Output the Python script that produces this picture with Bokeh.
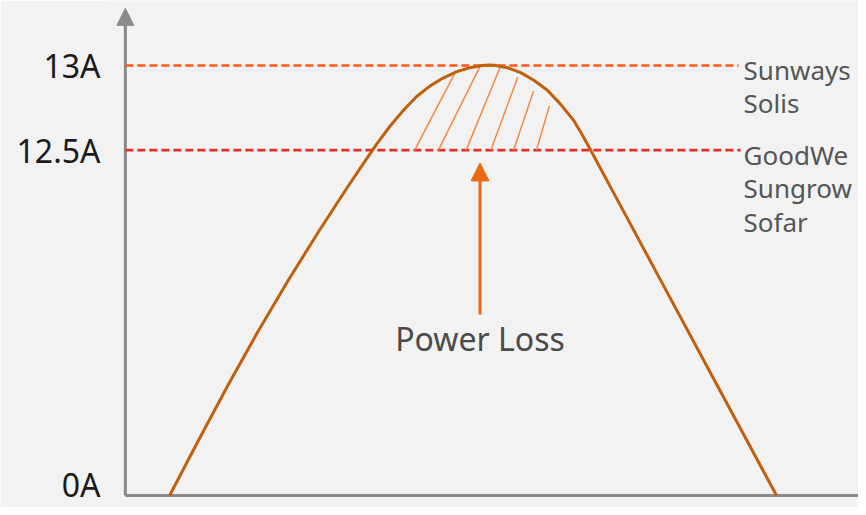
from bokeh.plotting import figure
from bokeh.models import Range1d, LinearAxis, FixedTicker, Arrow, NormalHead, ColumnDataSource
from bokeh.core.properties import value
from bokeh.embed import file_html
from bokeh.resources import INLINE

# ---- data (schematic units: x = arbitrary voltage axis, y = current level above 0A) ----
curve_x = [44.7, 74, 104, 134, 164, 194, 224, 240.7, 254, 267.3, 280.7, 294, 307.3, 320.7,
           334, 347.3, 360.7, 367, 372.3, 385.7, 399, 412.3, 425.7, 439, 452.3, 462.3,
           472.3, 495.7, 539, 592.3, 657.3]
curve_y = [0, 56.5, 112.9, 166.9, 217.9, 266.5, 313, 338, 357.5, 375.5, 391.5, 405.5, 416,
           424.2, 430.5, 434.7, 437, 437.5, 437.3, 434.7, 429.7, 422, 412, 398, 381.5,
           364.5, 346, 302.2, 221.2, 121.5, 0]

tick_levels = [11, 351, 437]
tick_labels = ["0A", "12.5A", "13A"]

level_13 = 437
level_125 = 351
x_max = 740
y_top = 495

hatch_x0 = [292, 316, 344, 369, 392, 415]
hatch_y0 = [351, 351, 351, 351, 351, 351]
hatch_x1 = [332, 358, 379, 396, 412, 428]
hatch_y1 = [428, 436, 437, 425, 411, 396]

arrow_x = 358
arrow_y_start = 184
arrow_y_end = 338
loss_label = "Power Loss"
loss_label_y = 160

brands_13 = ["Sunways", "Solis"]
brands_125 = ["GoodWe", "Sungrow", "Sofar"]

BG = "#f2f2f2"
AXIS = "#8a8a8a"
FONT = "Noto Sans"

p = figure(width=858, height=507, x_range=Range1d(-16, x_max), y_range=Range1d(-3, 503),
           output_backend="svg", toolbar_location=None,
           x_axis_location=None, y_axis_location=None,
           min_border_left=109, min_border_right=0, min_border_top=0, min_border_bottom=9,
           background_fill_color=BG, border_fill_color=BG, outline_line_color=None)
p.xgrid.visible = False
p.ygrid.visible = False

yaxis = LinearAxis(ticker=FixedTicker(ticks=tick_levels),
                   major_label_overrides={t: l for t, l in zip(tick_levels, tick_labels)},
                   axis_line_color=None,
                   major_tick_in=0, major_tick_out=0, minor_tick_in=0, minor_tick_out=0,
                   major_label_standoff=9,
                   major_label_text_font=FONT, major_label_text_font_size="32px",
                   major_label_text_color="#1a1a1a")
p.add_layout(yaxis, "left")

# axis lines drawn in data space so they meet at the origin
p.line([0, 0], [0, y_top - 10], line_color=AXIS, line_width=3)
p.line([0, x_max], [0, 0], line_color=AXIS, line_width=3)
p.add_layout(Arrow(end=NormalHead(size=17, fill_color=AXIS, line_color=AXIS, line_width=1),
                   x_start=0, y_start=y_top - 20, x_end=0, y_end=y_top,
                   line_color=AXIS, line_width=3))

# dashed limit lines
p.line([0, 619], [level_13, level_13], line_color="#ff5a14", line_width=2.6, line_dash="8 4")
p.line([0, 621], [level_125, level_125], line_color="#e0302c", line_width=2.6, line_dash="8 4")

# hatch of power loss
p.segment(x0=hatch_x0, y0=hatch_y0, x1=hatch_x1, y1=hatch_y1, line_color="#f08a40", line_width=1.5)

# curve
p.line(curve_x, curve_y, line_color="#c0600f", line_width=3, line_join="round")

# arrow
p.add_layout(Arrow(end=NormalHead(size=18, fill_color="#ea6a10", line_color="#ea6a10", line_width=1),
                   x_start=arrow_x, y_start=arrow_y_start, x_end=arrow_x, y_end=arrow_y_end,
                   line_color="#ea6a10", line_width=3))

p.text(x=[arrow_x], y=[loss_label_y], text=[loss_label], text_align="center", text_baseline="middle",
       text_font=value(FONT), text_font_size="32px", text_color="#4a4a4a")

# brand labels
lab_x = 624
src = ColumnDataSource(dict(
    x=[lab_x] * (len(brands_13) + len(brands_125)),
    y=[level_13 - 5 - 33 * i for i in range(len(brands_13))] +
      [level_125 - 5 - 34 * i for i in range(len(brands_125))],
    t=brands_13 + brands_125))
p.text(x="x", y="y", text="t", source=src, text_align="left", text_baseline="middle",
       text_font=value(FONT), text_font_size="26px", text_color="#555555")

open("out.html", "w").write(file_html(p, INLINE))
